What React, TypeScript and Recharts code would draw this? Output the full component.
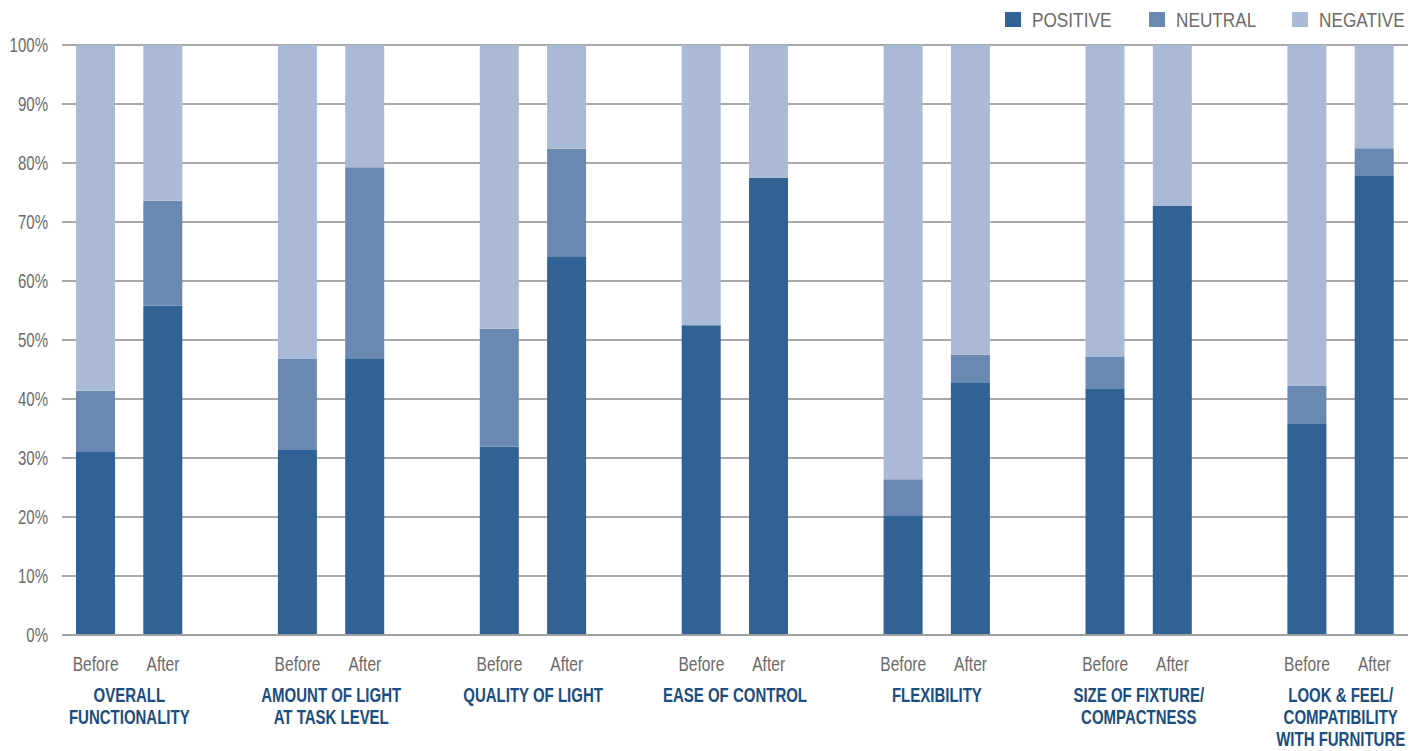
import React from "react";
import { BarChart, Bar, XAxis, YAxis, CartesianGrid } from "recharts";

const categories: string[][] = [
  ["OVERALL", "FUNCTIONALITY"],
  ["AMOUNT OF LIGHT", "AT TASK LEVEL"],
  ["QUALITY OF LIGHT"],
  ["EASE OF CONTROL"],
  ["FLEXIBILITY"],
  ["SIZE OF FIXTURE/", "COMPACTNESS"],
  ["LOOK & FEEL/", "COMPATIBILITY", "WITH FURNITURE"],
];

const periods = ["Before", "After"];

const positiveBefore = [31.0, 31.5, 31.9, 52.5, 20.3, 41.7, 35.9];
const neutralBefore = [10.4, 15.3, 20.0, 0, 6.1, 5.4, 6.3];
const positiveAfter = [55.8, 46.9, 64.2, 77.5, 42.7, 72.7, 77.8];
const neutralAfter = [17.8, 32.4, 18.2, 0, 4.8, 0, 4.7];

const yTicks = [0, 10, 20, 30, 40, 50, 60, 70, 80, 90, 100];

const legendItems = [
  { name: "POSITIVE", color: "#306295" },
  { name: "NEUTRAL", color: "#6a89b2" },
  { name: "NEGATIVE", color: "#aab9d6" },
];

type Row = {
  slot: string;
  period: string;
  lines: string[];
  positive: number | null;
  neutral: number | null;
  negative: number | null;
};

const data: Row[] = [];
categories.forEach((lines, i) => {
  const pb = positiveBefore[i];
  const nb = neutralBefore[i];
  const pa = positiveAfter[i];
  const na = neutralAfter[i];
  data.push({ slot: `g${i}-b`, period: periods[0], lines, positive: pb, neutral: nb, negative: +(100 - pb - nb).toFixed(2) });
  data.push({ slot: `g${i}-a`, period: periods[1], lines: [], positive: pa, neutral: na, negative: +(100 - pa - na).toFixed(2) });
  if (i < categories.length - 1) {
    data.push({ slot: `g${i}-gap`, period: "", lines: [], positive: null, neutral: null, negative: null });
  }
});

const FONT = "'Liberation Sans', Arial, sans-serif";
const SLOT = (1408 - 62) / 20;
const GREY = "#6b6b6b";
const BLUE = "#1b4d80";

const NText = (props: {
  x: number;
  y: number;
  sx: number;
  size: number;
  fill: string;
  anchor?: "start" | "middle" | "end";
  bold?: boolean;
  dy?: string;
  children: React.ReactNode;
}) => (
  <text
    transform={`translate(${props.x},${props.y}) scale(${props.sx},1)`}
    x={0}
    y={0}
    dy={props.dy}
    textAnchor={props.anchor || "start"}
    fill={props.fill}
    fontSize={props.size}
    fontWeight={props.bold ? "bold" : "normal"}
    fontFamily={FONT}
  >
    {props.children}
  </text>
);

const XTick = (props: any) => {
  const { x, y, payload } = props;
  const row = data[payload.index];
  if (!row || !row.period) return null;
  return (
    <g>
      <NText x={x} y={y + 28} sx={0.8} size={19.5} fill={GREY} anchor="middle">
        {row.period}
      </NText>
      {row.lines.map((ln, k) => (
        <NText key={k} x={x + SLOT / 2} y={y + 59 + k * 22} sx={0.75} size={20} fill={BLUE} anchor="middle" bold>
          {ln}
        </NText>
      ))}
    </g>
  );
};

const YTick = (props: any) => {
  const { x, y, payload } = props;
  return (
    <NText x={x} y={y} dy="0.36em" sx={0.77} size={19.5} fill={GREY} anchor="end">
      {`${payload.value}%`}
    </NText>
  );
};

const legendX = [1005, 1149, 1292];

export default function App() {
  return (
    <div style={{ position: "absolute", left: 0, top: 0, width: 1421, height: 751, background: "#fff" }}>
      <svg style={{ position: "absolute", left: 0, top: 0 }} width={1421} height={40}>
        {legendItems.map((it, i) => (
          <g key={it.name}>
            <rect x={legendX[i]} y={12} width={16} height={15} fill={it.color} />
            <NText x={legendX[i] + 27} y={27} sx={0.82} size={21} fill={GREY}>
              {it.name}
            </NText>
          </g>
        ))}
      </svg>
      <BarChart
        width={1421}
        height={751}
        data={data}
        margin={{ top: 45, right: 13, bottom: 0, left: 0 }}
        barSize={39}
      >
        <CartesianGrid vertical={false} stroke="#8c8c8c" strokeWidth={1.5} />
        <XAxis
          dataKey="slot"
          interval={0}
          tickLine={false}
          axisLine={{ stroke: "#a0a0a0", strokeWidth: 2 }}
          height={116}
          tick={<XTick />}
        />
        <YAxis
          width={62}
          domain={[0, 100]}
          ticks={yTicks}
          tickLine={false}
          axisLine={false}
          tickMargin={8}
          tick={<YTick />}
        />
        <Bar dataKey="positive" stackId="s" fill="#306295" isAnimationActive={false} />
        <Bar dataKey="neutral" stackId="s" fill="#6a89b2" isAnimationActive={false} />
        <Bar dataKey="negative" stackId="s" fill="#aab9d6" isAnimationActive={false} />
      </BarChart>
    </div>
  );
}
